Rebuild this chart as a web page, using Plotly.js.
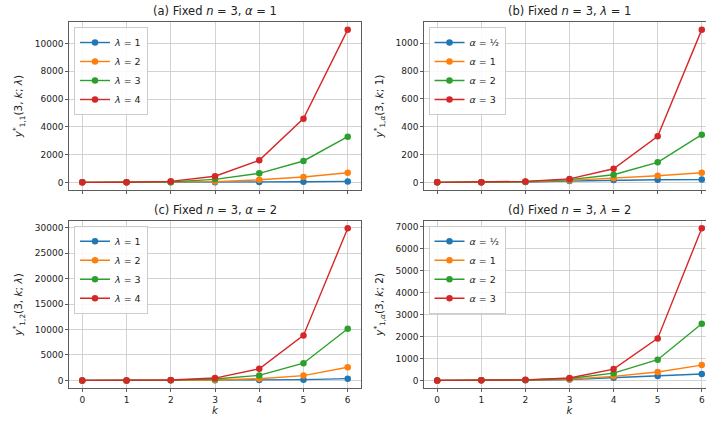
<!DOCTYPE html>
<html><head><meta charset="utf-8">
<script src="https://cdn.plot.ly/plotly-3.0.1.min.js"></script>
<style>html,body{margin:0;padding:0;overflow:hidden;background:#fff}</style>
</head><body><div id="chart" style="width:720px;height:422px"></div>
<script>
// k values
const kVals = [0, 1, 2, 3, 4, 5, 6];
const kTicks = [0, 1, 2, 3, 4, 5, 6];

// (a) Fixed n=3, alpha=1 ; lambda = 1..4
const a_lam1 = [0, 1, 4, 14, 29, 48, 69];
const a_lam2 = [0, 2, 15, 55, 183, 383, 695];
const a_lam3 = [0, 3, 35, 216, 650, 1540, 3290];
const a_lam4 = [0, 4, 72, 440, 1590, 4590, 11000];

// (b) Fixed n=3, lambda=1 ; alpha = 1/2, 1, 2, 3
const b_alphaHalf = [0, 1, 3, 10, 17, 19, 20];
const b_alpha1 = [0, 1, 4, 14, 29, 48, 69];
const b_alpha2 = [0, 1, 5, 20, 55, 144, 343];
const b_alpha3 = [0, 1, 7, 25, 98, 331, 1098];

// (c) Fixed n=3, alpha=2 ; lambda = 1..4
const c_lam1 = [0, 1, 5, 20, 55, 144, 343];
const c_lam2 = [0, 2, 18, 85, 330, 940, 2580];
const c_lam3 = [0, 3, 45, 260, 985, 3380, 10150];
const c_lam4 = [0, 4, 90, 460, 2290, 8840, 29900];

// (d) Fixed n=3, lambda=2 ; alpha = 1/2, 1, 2, 3
const d_alphaHalf = [0, 1, 6, 40, 122, 199, 290];
const d_alpha1 = [0, 2, 15, 55, 183, 383, 695];
const d_alpha2 = [0, 2, 18, 85, 330, 940, 2580];
const d_alpha3 = [0, 3, 25, 110, 515, 1911, 6920];

const lamNames = ['<i>λ</i> = 1', '<i>λ</i> = 2', '<i>λ</i> = 3', '<i>λ</i> = 4'];
const alphaNames = ['<i>α</i> = ½', '<i>α</i> = 1', '<i>α</i> = 2', '<i>α</i> = 3'];
const colors = ['#1f77b4', '#ff7f0e', '#2ca02c', '#d62728'];

const panels = [
  {series: [a_lam1, a_lam2, a_lam3, a_lam4], names: lamNames, xa: 'x', ya: 'y', leg: 'legend', dtick: 2000},
  {series: [b_alphaHalf, b_alpha1, b_alpha2, b_alpha3], names: alphaNames, xa: 'x2', ya: 'y2', leg: 'legend2', dtick: 200},
  {series: [c_lam1, c_lam2, c_lam3, c_lam4], names: lamNames, xa: 'x3', ya: 'y3', leg: 'legend3', dtick: 5000},
  {series: [d_alphaHalf, d_alpha1, d_alpha2, d_alpha3], names: alphaNames, xa: 'x4', ya: 'y4', leg: 'legend4', dtick: 1000}
];

const traces = [];
panels.forEach(p => {
  p.series.forEach((s, i) => {
    traces.push({
      x: kVals, y: s, name: p.names[i], type: 'scatter', mode: 'lines+markers',
      xaxis: p.xa, yaxis: p.ya, legend: p.leg,
      line: {color: colors[i], width: 1.4},
      marker: {color: colors[i], size: 6.5}
    });
  });
});

const W = 720, H = 422;
const font = 'DejaVu Sans, sans-serif';
const tickFont = {family: font, size: 9, color: '#222'};
const xDomL = [69 / W, 361 / W], xDomR = [424 / W, 715 / W];
const yDomT = [(H - 190) / H, (H - 22) / H], yDomB = [(H - 388) / H, (H - 220.7) / H];

function yRange(series) {
  const all = [].concat(...series);
  const mn = Math.min(...all), mx = Math.max(...all);
  const pad = 0.05 * (mx - mn);
  return [mn - pad, mx + pad];
}

function xAxis(dom, anchor, labels) {
  const ax = {
    domain: dom, anchor: anchor, range: [-0.3, 6.3], tickmode: 'array', tickvals: kTicks,
    showticklabels: labels, ticks: 'outside', ticklen: 3, tickwidth: 0.8, tickcolor: '#333',
    showline: true, linecolor: '#333', linewidth: 0.8, mirror: true,
    showgrid: true, gridcolor: '#c8c8c8', gridwidth: 0.8, zeroline: false,
    tickfont: tickFont
  };
  if (labels) ax.title = {text: '<i>k</i>', font: {family: font, size: 10, color: '#222'}, standoff: 2};
  return ax;
}
function yAxis(dom, anchor, series, dtick, title) {
  return {
    domain: dom, anchor: anchor, range: yRange(series), tick0: 0, dtick: dtick, tickformat: 'd',
    ticks: 'outside', ticklen: 3, tickwidth: 0.8, tickcolor: '#333',
    showline: true, linecolor: '#333', linewidth: 0.8, mirror: true,
    showgrid: true, gridcolor: '#c8c8c8', gridwidth: 0.8, zeroline: false,
    tickfont: tickFont,
    title: {text: title, font: {family: font, size: 10.5, color: '#222'}, standoff: 9}
  };
}

const legendBase = {
  xanchor: 'left', yanchor: 'top', bgcolor: 'rgba(255,255,255,0.85)',
  bordercolor: '#cccccc', borderwidth: 1, font: {family: font, size: 9.5, color: '#222'},
  itemwidth: 30, tracegroupgap: 0
};

const titles = [
  {text: '(a) Fixed <i>n</i> = 3, <i>α</i> = 1', x: (xDomL[0] + xDomL[1]) / 2, y: yDomT[1]},
  {text: '(b) Fixed <i>n</i> = 3, <i>λ</i> = 1', x: (xDomR[0] + xDomR[1]) / 2, y: yDomT[1]},
  {text: '(c) Fixed <i>n</i> = 3, <i>α</i> = 2', x: (xDomL[0] + xDomL[1]) / 2, y: yDomB[1]},
  {text: '(d) Fixed <i>n</i> = 3, <i>λ</i> = 2', x: (xDomR[0] + xDomR[1]) / 2, y: yDomB[1]}
];

const layout = {
  width: W, height: H, margin: {l: 0, r: 0, t: 0, b: 0},
  paper_bgcolor: '#fff', plot_bgcolor: '#fff', showlegend: true,
  font: {family: font, color: '#222'},
  xaxis: xAxis(xDomL, 'y', false),
  xaxis2: xAxis(xDomR, 'y2', false),
  xaxis3: xAxis(xDomL, 'y3', true),
  xaxis4: xAxis(xDomR, 'y4', true),
  yaxis: yAxis(yDomT, 'x', panels[0].series, panels[0].dtick, '<i>y</i><sup>*</sup><sub>1,1</sub>(3, <i>k</i>; <i>λ</i>)'),
  yaxis2: yAxis(yDomT, 'x2', panels[1].series, panels[1].dtick, '<i>y</i><sup>*</sup><sub>1,<i>α</i></sub>(3, <i>k</i>; 1)'),
  yaxis3: yAxis(yDomB, 'x3', panels[2].series, panels[2].dtick, '<i>y</i><sup>*</sup><sub>1,2</sub>(3, <i>k</i>; <i>λ</i>)'),
  yaxis4: yAxis(yDomB, 'x4', panels[3].series, panels[3].dtick, '<i>y</i><sup>*</sup><sub>1,<i>α</i></sub>(3, <i>k</i>; 2)'),
  legend: Object.assign({}, legendBase, {x: 74 / W, y: 1 - 27 / H}),
  legend2: Object.assign({}, legendBase, {x: 428.5 / W, y: 1 - 27 / H}),
  legend3: Object.assign({}, legendBase, {x: 74 / W, y: 1 - 225.7 / H}),
  legend4: Object.assign({}, legendBase, {x: 428.5 / W, y: 1 - 225.7 / H}),
  annotations: titles.map(t => ({
    text: t.text, x: t.x, y: t.y, xref: 'paper', yref: 'paper', xanchor: 'center', yanchor: 'bottom',
    yshift: 2, showarrow: false, font: {family: font, size: 11.5, color: '#222'}
  }))
};

Plotly.newPlot('chart', traces, layout, {displayModeBar: false, staticPlot: true});
</script></body></html>
